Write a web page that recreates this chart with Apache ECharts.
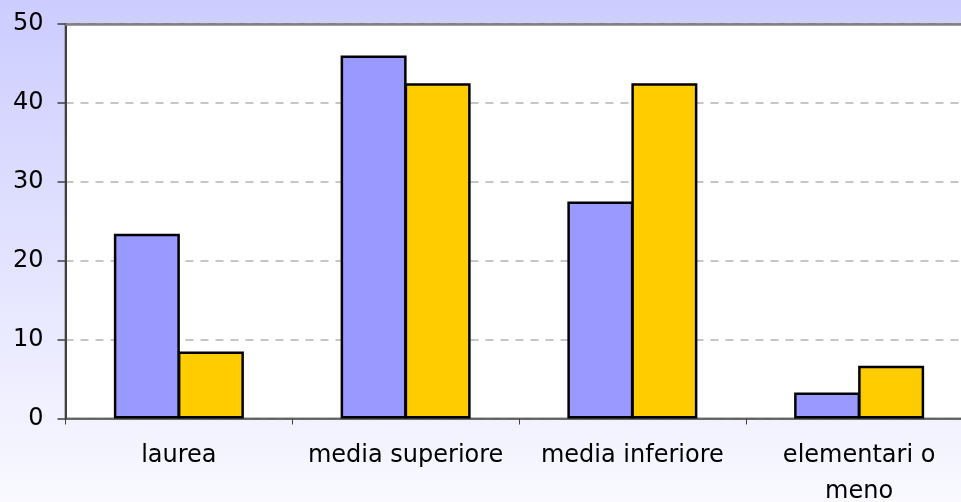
<!DOCTYPE html>
<html>
<head>
<meta charset="utf-8">
<style>
  html, body { margin: 0; padding: 0; }
  #chart { width: 961px; height: 502px; }
</style>
<script src="https://cdn.jsdelivr.net/npm/echarts@6/dist/echarts.min.js"></script>
</head>
<body>
<div id="chart"></div>
<script>
// Education level categories and the two compared series (percent)
const categories = ['laurea', 'media superiore', 'media inferiore', 'elementari o\nmeno'];
const seriesA = [23.4, 46.0, 27.5, 3.3];
const seriesB = [8.5, 42.5, 42.5, 6.7];
const yTicks = { min: 0, max: 50, interval: 10 };

const chart = echarts.init(document.getElementById('chart'));
const font = 'DejaVu Sans, sans-serif';

chart.setOption({
  animation: false,
  backgroundColor: {
    type: 'linear', x: 0, y: 0, x2: 0, y2: 1,
    colorStops: [
      { offset: 0, color: '#CCCCFF' },
      { offset: 1, color: '#F9F9FF' }
    ]
  },
  grid: {
    left: 65.5,
    top: 24,
    width: 907,
    height: 394.5,
    containLabel: false,
    outerBoundsMode: 'none',
    show: true,
    backgroundColor: '#FFFFFF',
    borderColor: '#808080',
    borderWidth: 2
  },
  xAxis: [
    {
      type: 'category',
      data: categories,
      axisLine: { show: true, lineStyle: { color: '#505050', width: 1.5 } },
      axisTick: { show: true, length: 6, lineStyle: { color: '#404040' } },
      axisLabel: {
        color: '#000000',
        fontFamily: font,
        fontSize: 24,
        margin: 19,
        lineHeight: 36,
        interval: 0
      },
      splitLine: { show: false }
    },
    {
      // top frame of the plot area
      type: 'category',
      position: 'top',
      data: categories,
      axisLine: { show: true, lineStyle: { color: '#808080', width: 2.5 } },
      axisTick: { show: false },
      axisLabel: { show: false },
      splitLine: { show: false }
    }
  ],
  yAxis: {
    type: 'value',
    min: yTicks.min,
    max: yTicks.max,
    interval: yTicks.interval,
    axisLine: { show: true, lineStyle: { color: '#404040', width: 2 } },
    axisTick: { show: true, length: 8, lineStyle: { color: '#404040', width: 1.5 } },
    axisLabel: {
      color: '#000000',
      fontFamily: font,
      fontSize: 24,
      margin: 22
    },
    splitLine: {
      show: true,
      lineStyle: { color: '#B4B4B4', width: 1.5, type: [8, 7] }
    }
  },
  series: [
    {
      type: 'bar',
      data: seriesA,
      barWidth: 66,
      barGap: '-3%',
      itemStyle: { color: '#9999FF', borderColor: '#000000', borderWidth: 2.5 }
    },
    {
      type: 'bar',
      data: seriesB,
      barWidth: 66,
      barGap: '-3%',
      itemStyle: { color: '#FFCC00', borderColor: '#000000', borderWidth: 2.5 }
    }
  ]
});
</script>
</body>
</html>
